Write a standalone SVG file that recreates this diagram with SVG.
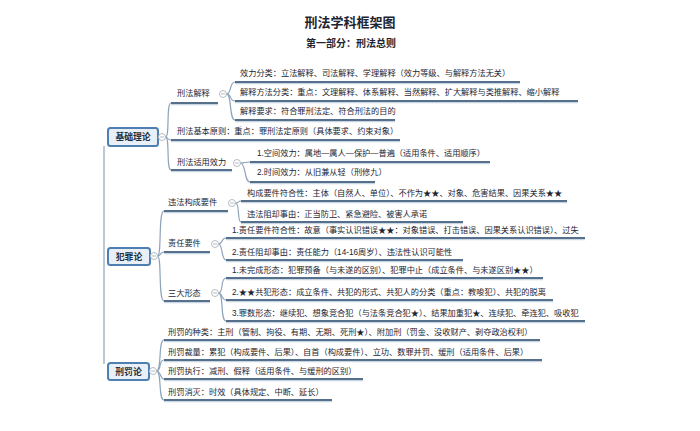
<svg xmlns="http://www.w3.org/2000/svg" width="700" height="431" viewBox="0 0 700 431">
<style>
text{font-family:"Liberation Sans","Noto Sans CJK SC",sans-serif;fill:#1e2530}
.t{font-size:8.2px}
.title{font-size:13px;font-weight:bold}
.sub{font-size:10px;font-weight:bold}
.rt{font-size:8.8px;font-weight:bold;fill:#1f3040}
.box{fill:#e8eff7;stroke:#4f7fb0;stroke-width:2}
.ul{stroke:#56708c;stroke-width:1.8;fill:none}
.sh{stroke:#c8d6e4;stroke-width:1.4;fill:none}
.cn{stroke:#8ea4ba;stroke-width:1.2;fill:none}
.cc{fill:#fff;stroke:#a4acb4;stroke-width:0.8}
.cm{stroke:#a4acb4;stroke-width:0.8}
</style>
<rect width="700" height="431" fill="#fff"/>
<text class="title" x="350" y="27" text-anchor="middle">刑法学科框架图</text>
<text class="sub" x="351" y="47" text-anchor="middle">第一部分：刑法总则</text>

<g id="connectors">
<path class="cn" d="M104,146 L104,364"/>
<!-- 基础理论 -->
<path class="cn" d="M165.5,137 C170,137 166,103 171,103"/>
<path class="cn" d="M165.5,137 C168,137 167,140 171,140"/>
<path class="cn" d="M165.5,137 C170,137 166,170 171,170"/>
<path class="cn" d="M226.5,94 C232,94 229,82 235,82"/>
<path class="cn" d="M226.5,94 C232,94 229,101 235,101"/>
<path class="cn" d="M226.5,94 C232,94 229,120 235,120"/>
<path class="cn" d="M240.5,163 C246,163 244,162 250,162"/>
<path class="cn" d="M240.5,163 C246,163 244,182 250,182"/>
<!-- 犯罪论 -->
<path class="cn" d="M157.5,256 C162,256 158,211 164,211"/>
<path class="cn" d="M157.5,256 C161,256 160,252 164,252"/>
<path class="cn" d="M157.5,256 C162,256 158,301 164,301"/>
<path class="cn" d="M235.5,203 C240,203 237,201 241,201"/>
<path class="cn" d="M235.5,203 C240,203 237,222 241,222"/>
<path class="cn" d="M218.5,244 C223,244 221,238 226,238"/>
<path class="cn" d="M218.5,244 C223,244 221,260 226,260"/>
<path class="cn" d="M218.5,293 C224,293 220,278 226,278"/>
<path class="cn" d="M218.5,293 C223,293 221,300 226,300"/>
<path class="cn" d="M218.5,293 C224,293 220,321 226,321"/>
<!-- 刑罚论 -->
<path class="cn" d="M156.5,371 C162,371 158,340 164,340"/>
<path class="cn" d="M156.5,371 C162,371 158,360 164,360"/>
<path class="cn" d="M156.5,371 C161,371 160,379 164,379"/>
<path class="cn" d="M156.5,371 C162,371 158,400 164,400"/>
</g>

<g id="n-jichu">
<rect class="box" x="108" y="128" width="50" height="18" rx="2.5"/>
<text class="rt" x="133" y="140.3" text-anchor="middle">基础理论</text>
<circle class="cc" cx="162" cy="137" r="3.5"/><line class="cm" x1="160" y1="137" x2="164" y2="137"/>
</g>

<g id="n-jieshi">
<line class="sh" x1="171" y1="104.5" x2="218" y2="104.5"/><line class="ul" x1="171" y1="103" x2="218" y2="103"/>
<text class="t" x="177" y="96">刑法解释</text>
<circle class="cc" cx="223" cy="94" r="3.5"/><line class="cm" x1="221" y1="94" x2="225" y2="94"/>
</g>
<g id="n-xiaoli-fenlei">
<line class="sh" x1="235" y1="83.5" x2="520" y2="83.5"/><line class="ul" x1="235" y1="82" x2="520" y2="82"/>
<text class="t" x="240" y="76">效力分类：立法解释、司法解释、学理解释（效力等级、与解释方法无关）</text>
</g>
<g id="n-fangfa">
<line class="sh" x1="235" y1="102.5" x2="578" y2="102.5"/><line class="ul" x1="235" y1="101" x2="578" y2="101"/>
<text class="t" x="240" y="95">解释方法分类：重点：文理解释、体系解释、当然解释、扩大解释与类推解释、缩小解释</text>
</g>
<g id="n-yaoqiu">
<line class="sh" x1="235" y1="121.5" x2="395" y2="121.5"/><line class="ul" x1="235" y1="120" x2="395" y2="120"/>
<text class="t" x="240" y="114">解释要求：符合罪刑法定、符合刑法的目的</text>
</g>
<g id="n-yuanze">
<line class="sh" x1="171" y1="141.5" x2="400" y2="141.5"/><line class="ul" x1="171" y1="140" x2="400" y2="140"/>
<text class="t" x="177" y="134">刑法基本原则：重点：罪刑法定原则（具体要求、约束对象）</text>
</g>
<g id="n-shiyong">
<line class="sh" x1="171" y1="171.5" x2="232" y2="171.5"/><line class="ul" x1="171" y1="170" x2="232" y2="170"/>
<text class="t" x="177" y="165">刑法适用效力</text>
<circle class="cc" cx="237" cy="163" r="3.5"/><line class="cm" x1="235" y1="163" x2="239" y2="163"/>
</g>
<g id="n-kongjian">
<line class="sh" x1="250" y1="163.5" x2="490" y2="163.5"/><line class="ul" x1="250" y1="162" x2="490" y2="162"/>
<text class="t" x="257" y="156">1.空间效力：属地—属人—保护—普遍（适用条件、适用顺序）</text>
</g>
<g id="n-shijian">
<line class="sh" x1="250" y1="183.5" x2="375" y2="183.5"/><line class="ul" x1="250" y1="182" x2="375" y2="182"/>
<text class="t" x="257" y="175">2.时间效力：从旧兼从轻（刑修九）</text>
</g>

<g id="n-fanzui">
<rect class="box" x="108" y="248" width="42" height="17" rx="2.5"/>
<text class="rt" x="129" y="259.6" text-anchor="middle">犯罪论</text>
<circle class="cc" cx="154" cy="256" r="3.5"/><line class="cm" x1="152" y1="256" x2="156" y2="256"/>
</g>
<g id="n-weifa">
<line class="sh" x1="164" y1="212.5" x2="228" y2="212.5"/><line class="ul" x1="164" y1="211" x2="228" y2="211"/>
<text class="t" x="168" y="205">违法构成要件</text>
<circle class="cc" cx="232" cy="203" r="3.5"/><line class="cm" x1="230" y1="203" x2="234" y2="203"/>
</g>
<g id="n-goucheng">
<line class="sh" x1="241" y1="202.5" x2="567" y2="202.5"/><line class="ul" x1="241" y1="201" x2="567" y2="201"/>
<text class="t" x="247" y="196">构成要件符合性：主体（自然人、单位）、不作为★★、对象、危害结果、因果关系★★</text>
</g>
<g id="n-weifa-zuque">
<line class="sh" x1="241" y1="223.5" x2="463" y2="223.5"/><line class="ul" x1="241" y1="222" x2="463" y2="222"/>
<text class="t" x="247" y="217">违法阻却事由：正当防卫、紧急避险、被害人承诺</text>
</g>
<g id="n-zeren">
<line class="sh" x1="164" y1="253.5" x2="210" y2="253.5"/><line class="ul" x1="164" y1="252" x2="210" y2="252"/>
<text class="t" x="168" y="246">责任要件</text>
<circle class="cc" cx="215" cy="244" r="3.5"/><line class="cm" x1="213" y1="244" x2="217" y2="244"/>
</g>
<g id="n-zeren-fuhe">
<line class="sh" x1="226" y1="239.5" x2="585" y2="239.5"/><line class="ul" x1="226" y1="238" x2="585" y2="238"/>
<text class="t" x="232" y="233">1.责任要件符合性：故意（事实认识错误★★：对象错误、打击错误、因果关系认识错误）、过失</text>
</g>
<g id="n-zeren-zuque">
<line class="sh" x1="226" y1="261.5" x2="463" y2="261.5"/><line class="ul" x1="226" y1="260" x2="463" y2="260"/>
<text class="t" x="232" y="255">2.责任阻却事由：责任能力（14-16周岁）、违法性认识可能性</text>
</g>
<g id="n-xingtai">
<line class="sh" x1="164" y1="302.5" x2="210" y2="302.5"/><line class="ul" x1="164" y1="301" x2="210" y2="301"/>
<text class="t" x="168" y="296">三大形态</text>
<circle class="cc" cx="215" cy="293" r="3.5"/><line class="cm" x1="213" y1="293" x2="217" y2="293"/>
</g>
<g id="n-weiwancheng">
<line class="sh" x1="226" y1="279.5" x2="543" y2="279.5"/><line class="ul" x1="226" y1="278" x2="543" y2="278"/>
<text class="t" x="232" y="273">1.未完成形态：犯罪预备（与未遂的区别）、犯罪中止（成立条件、与未遂区别★★）</text>
</g>
<g id="n-gongfan">
<line class="sh" x1="226" y1="301.5" x2="553" y2="301.5"/><line class="ul" x1="226" y1="300" x2="553" y2="300"/>
<text class="t" x="232" y="295">2.★★共犯形态：成立条件、共犯的形式、共犯人的分类（重点：教唆犯）、共犯的脱离</text>
</g>
<g id="n-zuishu">
<line class="sh" x1="226" y1="322.5" x2="585" y2="322.5"/><line class="ul" x1="226" y1="321" x2="585" y2="321"/>
<text class="t" x="232" y="316">3.罪数形态：继续犯、想象竞合犯（与法条竞合犯★）、结果加重犯★、连续犯、牵连犯、吸收犯</text>
</g>

<g id="n-xingfa">
<rect class="box" x="108" y="363" width="41" height="17" rx="2.5"/>
<text class="rt" x="128.5" y="374.6" text-anchor="middle">刑罚论</text>
<circle class="cc" cx="153" cy="371" r="3.5"/><line class="cm" x1="151" y1="371" x2="155" y2="371"/>
</g>
<g id="n-zhonglei">
<line class="sh" x1="164" y1="341.5" x2="540" y2="341.5"/><line class="ul" x1="164" y1="340" x2="540" y2="340"/>
<text class="t" x="168" y="335">刑罚的种类：主刑（管制、拘役、有期、无期、死刑★）、附加刑（罚金、没收财产、剥夺政治权利）</text>
</g>
<g id="n-cailiang">
<line class="sh" x1="164" y1="361.5" x2="542" y2="361.5"/><line class="ul" x1="164" y1="360" x2="542" y2="360"/>
<text class="t" x="168" y="355">刑罚裁量：累犯（构成要件、后果）、自首（构成要件）、立功、数罪并罚、缓刑（适用条件、后果）</text>
</g>
<g id="n-zhixing">
<line class="sh" x1="164" y1="380.5" x2="363" y2="380.5"/><line class="ul" x1="164" y1="379" x2="363" y2="379"/>
<text class="t" x="168" y="374">刑罚执行：减刑、假释（适用条件、与缓刑的区别）</text>
</g>
<g id="n-xiaomie">
<line class="sh" x1="164" y1="401.5" x2="332" y2="401.5"/><line class="ul" x1="164" y1="400" x2="332" y2="400"/>
<text class="t" x="168" y="395">刑罚消灭：时效（具体规定、中断、延长）</text>
</g>
</svg>
